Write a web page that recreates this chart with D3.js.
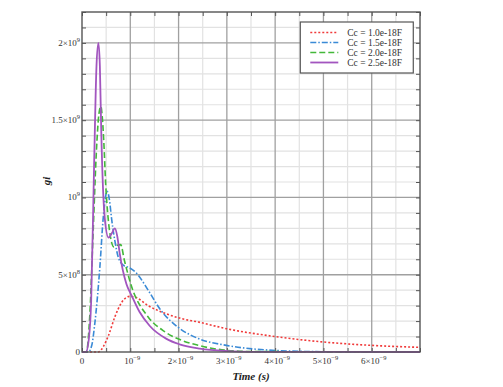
<!DOCTYPE html>
<html>
<head>
<meta charset="utf-8">
<script src="https://cdn.jsdelivr.net/npm/d3@7"></script>
<style>
  body { margin: 0; background: #fff; }
  svg { font-family: "Liberation Serif", "DejaVu Serif", serif; }
  .axis-title { font-weight: bold; font-style: italic; font-size: 11px; fill: #222; }
  .tick-label { font-size: 9px; fill: #333; }
  .legend-text { font-size: 9.5px; fill: #333; }
</style>
</head>
<body>
<svg id="chart"></svg>
<script>
var margin = {top: 12, right: 83, bottom: 35, left: 82};

// time in units of 1e-9 s, gi in units of 1e9
var redT   = [0, 0.34, 0.45, 0.55, 0.68, 0.82, 0.99, 1.1, 1.37, 1.72, 2.06, 2.41, 2.99, 3.95, 4.99, 5.99, 7];
var redV   = [0, 0, 0.04, 0.108, 0.227, 0.32, 0.36, 0.355, 0.30, 0.25, 0.216, 0.194, 0.151, 0.102, 0.065, 0.043, 0.03];

var blueT  = [0, 0.13, 0.2, 0.26, 0.37, 0.44, 0.52, 0.57, 0.61, 0.68, 0.75, 0.86, 0.97, 1.13, 1.37, 1.61, 2.02, 2.41, 2.99, 3.95, 4.98, 7];
var blueV  = [0, 0, 0.04, 0.17, 0.55, 0.87, 1.04, 0.98, 0.87, 0.72, 0.615, 0.56, 0.547, 0.51, 0.40, 0.28, 0.153, 0.087, 0.043, 0.011, 0.002, 0];

var greenT = [0, 0.09, 0.16, 0.23, 0.30, 0.35, 0.39, 0.42, 0.45, 0.49, 0.54, 0.59, 0.66, 0.73, 0.80, 0.88, 1.02, 1.37, 1.72, 2.06, 2.41, 2.99, 3.5, 7];
var greenV = [0, 0, 0.23, 0.77, 1.31, 1.54, 1.59, 1.52, 1.37, 1.09, 0.87, 0.745, 0.68, 0.69, 0.695, 0.59, 0.43, 0.227, 0.13, 0.076, 0.043, 0.011, 0.003, 0];

var purpleT = [0, 0.08, 0.14, 0.19, 0.25, 0.30, 0.34, 0.37, 0.40, 0.47, 0.55, 0.62, 0.68, 0.73, 0.78, 0.92, 1.02, 1.19, 1.40, 1.75, 2.02, 2.44, 3.0, 3.5, 7];
var purpleV = [0, 0, 0.08, 0.33, 1.2, 1.85, 2.0, 1.85, 1.41, 0.87, 0.74, 0.77, 0.80, 0.75, 0.64, 0.44, 0.37, 0.26, 0.17, 0.085, 0.05, 0.022, 0.006, 0.001, 0];

var legendLabels = ["Cc = 1.0e-18F", "Cc = 1.5e-18F", "Cc = 2.0e-18F", "Cc = 2.5e-18F"];

// x tick labels: [mantissa, exponent]
var xTicks = [0, 1, 2, 3, 4, 5, 6];
var xTickText = [["0", ""], ["10", "−9"], ["2×10", "−9"], ["3×10", "−9"], ["4×10", "−9"], ["5×10", "−9"], ["6×10", "−9"]];
var yTicks = [0, 0.5, 1, 1.5, 2];
var yTickText = [["0", ""], ["5×10", "8"], ["10", "9"], ["1.5×10", "9"], ["2×10", "9"]];

var W = 503, H = 387;
var width = W - margin.left - margin.right,
    height = H - margin.top - margin.bottom;

var x = d3.scaleLinear().domain([0, 7]).range([0, width]);
var y = d3.scaleLinear().domain([0, 2.2]).range([height, 0]);

var svg = d3.select("#chart")
  .attr("width", W)
  .attr("height", H)
  .append("g")
    .attr("transform", "translate(" + margin.left + "," + margin.top + ")");

//Grid - minor first, then major
var xMinor = d3.range(0.5, 7, 1);
var yMinor = d3.range(1, 22).map(function(d){ return d / 10; }).filter(function(d){ return Math.round(d * 10) % 5 != 0; });

svg.selectAll(".vminor").data(xMinor).enter().append("line")
  .attr("x1", function(d){ return x(d); }).attr("x2", function(d){ return x(d); })
  .attr("y1", 0).attr("y2", height)
  .style("stroke", "#e2e2e2").style("stroke-width", 1.2);

svg.selectAll(".hminor").data(yMinor).enter().append("line")
  .attr("x1", 0).attr("x2", width)
  .attr("y1", function(d){ return y(d); }).attr("y2", function(d){ return y(d); })
  .style("stroke", "#e2e2e2").style("stroke-width", 1.2);

svg.selectAll(".vmajor").data(xTicks.slice(1)).enter().append("line")
  .attr("x1", function(d){ return x(d); }).attr("x2", function(d){ return x(d); })
  .attr("y1", 0).attr("y2", height)
  .style("stroke", "#a0a0a0").style("stroke-width", 1.3);

svg.selectAll(".hmajor").data(yTicks.slice(1)).enter().append("line")
  .attr("x1", 0).attr("x2", width)
  .attr("y1", function(d){ return y(d); }).attr("y2", function(d){ return y(d); })
  .style("stroke", "#a0a0a0").style("stroke-width", 1.3);

//Tick marks on all four sides, pointing inward
var yAllTicks = d3.range(0, 23).map(function(d){ return d / 10; });
var xAllTicks = d3.range(0, 15).map(function(d){ return d / 2; });

svg.append("g").call(d3.axisLeft(y).tickValues(yAllTicks).tickSize(-4).tickFormat(""))
  .call(function(g){ g.select(".domain").remove(); g.selectAll("line").style("stroke", "#555"); });
svg.append("g").attr("transform", "translate(" + width + ",0)")
  .call(d3.axisRight(y).tickValues(yAllTicks).tickSize(-4).tickFormat(""))
  .call(function(g){ g.select(".domain").remove(); g.selectAll("line").style("stroke", "#555"); });
svg.append("g").attr("transform", "translate(0," + height + ")")
  .call(d3.axisBottom(x).tickValues(xAllTicks).tickSize(-4).tickFormat(""))
  .call(function(g){ g.select(".domain").remove(); g.selectAll("line").style("stroke", "#555"); });
svg.append("g")
  .call(d3.axisTop(x).tickValues(xAllTicks).tickSize(-4).tickFormat(""))
  .call(function(g){ g.select(".domain").remove(); g.selectAll("line").style("stroke", "#555"); });

//Tick labels with superscripts
function addPow(sel, t){
  sel.append("tspan").text(t[0]);
  if(t[1]) sel.append("tspan").attr("dy", -4).style("font-size", "6.5px").text(t[1]);
}

xTicks.forEach(function(d, i){
  var t = svg.append("text").attr("class", "tick-label")
    .attr("x", x(d) + (d == 0 ? 0 : 2)).attr("y", height + 12)
    .attr("text-anchor", "middle");
  addPow(t, xTickText[i]);
});

yTicks.forEach(function(d, i){
  var t = svg.append("text").attr("class", "tick-label")
    .attr("x", -2).attr("y", y(d) + 3)
    .attr("text-anchor", "end");
  addPow(t, yTickText[i]);
});

//Axis titles
svg.append("text").attr("class", "axis-title")
  .attr("x", width / 2).attr("y", height + 28)
  .attr("text-anchor", "middle")
  .text("Time (s)");

svg.append("text").attr("class", "axis-title")
  .attr("transform", "translate(-32," + (height / 2 - 1) + ") rotate(-90)")
  .attr("text-anchor", "middle")
  .text("gi");

//Curves
var series = [
  {t: redT, v: redV, color: "#f03a3a", dash: "2,2", width: 1.6},
  {t: blueT, v: blueV, color: "#3a8ad6", dash: "6,2,1.5,2", width: 1.6},
  {t: greenT, v: greenV, color: "#43b83a", dash: "6,3", width: 1.6},
  {t: purpleT, v: purpleV, color: "#a255bf", dash: null, width: 1.8}
];

var line = d3.line()
  .x(function(d){ return x(d[0]); })
  .y(function(d){ return y(d[1]); })
  .curve(d3.curveMonotoneX);

var plot = svg.append("g");
series.forEach(function(s){
  plot.append("path")
    .datum(d3.zip(s.t, s.v))
    .attr("d", line)
    .style("fill", "none")
    .style("stroke", s.color)
    .style("stroke-width", s.width)
    .style("stroke-dasharray", s.dash);
});

//Frame
svg.append("rect")
  .attr("width", width).attr("height", height)
  .style("fill", "none").style("stroke", "#555").style("stroke-width", 1.4);

//Legend
var legend = svg.append("g").attr("transform", "translate(" + (x(4.5) + 1) + ",10)");
legend.append("rect")
  .attr("width", 113).attr("height", 51)
  .style("fill", "#fff").style("stroke", "#555").style("stroke-width", 1.2);

series.forEach(function(s, i){
  var yy = 10.5 + i * 10;
  legend.append("line")
    .attr("x1", 10).attr("x2", 38).attr("y1", yy).attr("y2", yy)
    .style("stroke", s.color).style("stroke-width", s.width)
    .style("stroke-dasharray", s.dash);
  legend.append("text").attr("class", "legend-text")
    .attr("x", 47).attr("y", yy + 3.3)
    .text(legendLabels[i]);
});
</script>
</body>
</html>
